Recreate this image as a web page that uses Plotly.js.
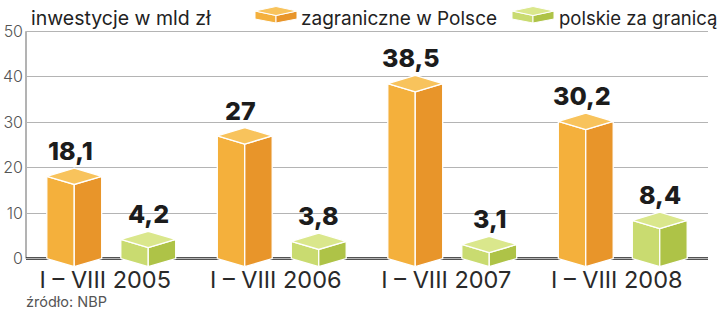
<!DOCTYPE html>
<html>
<head>
<meta charset="utf-8">
<script src="https://cdn.plot.ly/plotly-3.0.1.min.js"></script>
<style>html,body{margin:0;padding:0;background:#fff;}#chart{width:720px;height:311px;}</style>
</head>
<body>
<div id="chart"></div>
<script>
// ---- data ----
const categories = ['I – VIII 2005', 'I – VIII 2006', 'I – VIII 2007', 'I – VIII 2008'];
const foreignInPoland = [18.1, 27, 38.5, 30.2];   // zagraniczne w Polsce
const polishAbroad = [4.2, 3.8, 3.1, 8.4];        // polskie za granicą
const seriesNames = ['zagraniczne w Polsce', 'polskie za granicą'];
const yTickValues = [0, 10, 20, 30, 40, 50];
const headerText = 'inwestycje w mld zł';
const sourceText = 'źródło: NBP';

// ---- styling ----
const W = 720, H = 311;
const M = {l: 26, r: 12, t: 30, b: 42};
const FONT = 'Inter, "Open Sans", Roboto, sans-serif';
const orange = {left: '#F4B03C', right: '#E8952A', top: '#F8C35C'};
const green  = {left: '#C9DB70', right: '#AEC347', top: '#DAE78C'};
const halfW = 0.161, depth = 1.8;
const offsets = [-0.217, 0.217];
const labelShift = [-4, 0];

function boxTraces(values, off, col, name) {
  const L = {x: [], y: []}, R = {x: [], y: []}, T = {x: [], y: []};
  values.forEach((v, i) => {
    const xc = i + off, xl = xc - halfW, xr = xc + halfW;
    L.x.push(xl, xl, xc, xc, xl, null); L.y.push(0, v, v - depth, -depth, 0, null);
    R.x.push(xc, xc, xr, xr, xc, null); R.y.push(-depth, v - depth, v, 0, -depth, null);
    T.x.push(xl, xc, xr, xc, xl, null); T.y.push(v, v + depth, v, v - depth, v, null);
  });
  const mk = (d, c) => ({type: 'scatter', mode: 'lines', x: d.x, y: d.y, fill: 'toself',
    fillcolor: c, line: {color: '#ffffff', width: 1.3}, hoverinfo: 'skip', name: name, showlegend: false});
  return [mk(L, col.left), mk(R, col.right), mk(T, col.top)];
}

const traces = [
  ...boxTraces(foreignInPoland, offsets[0], orange, seriesNames[0]),
  ...boxTraces(polishAbroad, offsets[1], green, seriesNames[1])
];

const fmt = v => String(v).replace('.', ',');
const annotations = [];
[foreignInPoland, polishAbroad].forEach((vals, s) => {
  vals.forEach((v, i) => {
    annotations.push({x: i + offsets[s], y: v + depth, xref: 'x', yref: 'y', text: fmt(v),
      showarrow: false, yanchor: 'bottom', xanchor: 'center', yshift: 0, xshift: labelShift[s],
      font: {family: FONT, size: 25, color: '#1c1c1c', weight: 800}});
  });
});

// pixel -> paper helpers for decorations
const PW = W - M.l - M.r, PH = H - M.t - M.b;
const px = x => (x - M.l) / PW;
const py = y => (H - M.b - y) / PH;

annotations.push(
  {xref: 'paper', yref: 'paper', x: px(29), y: py(18), xanchor: 'left', yanchor: 'middle', showarrow: false,
   text: headerText, font: {family: FONT, size: 19.5, color: '#222'}},
  {xref: 'paper', yref: 'paper', x: px(299), y: py(18), xanchor: 'left', yanchor: 'middle', showarrow: false,
   text: seriesNames[0], font: {family: FONT, size: 19, color: '#222'}},
  {xref: 'paper', yref: 'paper', x: px(557), y: py(18), xanchor: 'left', yanchor: 'middle', showarrow: false,
   text: seriesNames[1], font: {family: FONT, size: 18.5, color: '#222'}},
  {xref: 'paper', yref: 'paper', x: px(24), y: py(301), xanchor: 'left', yanchor: 'middle', showarrow: false,
   text: sourceText, font: {family: FONT, size: 14.5, color: '#555'}}
);

function poly(pts) {
  return 'M' + pts.map(p => px(p[0]) + ',' + py(p[1])).join(' L') + ' Z';
}
function icon(x0, col) {
  const w = 42, m = w / 2;
  return [
    {type: 'path', xref: 'paper', yref: 'paper', path: poly([[x0, 11], [x0 + m, 15.5], [x0 + m, 23], [x0, 19]]), fillcolor: col.left, line: {color: '#fff', width: 1}},
    {type: 'path', xref: 'paper', yref: 'paper', path: poly([[x0 + m, 15.5], [x0 + w, 11], [x0 + w, 19], [x0 + m, 23]]), fillcolor: col.right, line: {color: '#fff', width: 1}},
    {type: 'path', xref: 'paper', yref: 'paper', path: poly([[x0, 11], [x0 + m, 6.5], [x0 + w, 11], [x0 + m, 15.5]]), fillcolor: col.top, line: {color: '#fff', width: 1}}
  ];
}

const shapes = [
  {type: 'line', xref: 'paper', x0: 0, x1: 0, yref: 'y', y0: 0, y1: 50, line: {color: '#9a9a9a', width: 1.5}, layer: 'below'},
  {type: 'line', xref: 'paper', x0: 0, x1: 1, yref: 'y', y0: 0, y1: 0, line: {color: '#1a1a1a', width: 2.5}, layer: 'below'},
  ...icon(255, orange),
  ...icon(512, green)
];

const layout = {
  width: W, height: H, margin: M,
  paper_bgcolor: '#fff', plot_bgcolor: '#fff',
  showlegend: false,
  xaxis: {range: [-0.5, 3.5], tickvals: categories.map((c, i) => i - 0.035), ticktext: categories,
    showgrid: false, zeroline: false, showline: false, ticks: '', ticklabelstandoff: -6,
    tickfont: {family: FONT, size: 23.5, color: '#2a2a2a'}, fixedrange: true},
  yaxis: {range: [-2.3, 50.3], tickvals: yTickValues, ticktext: yTickValues.map(String),
    showgrid: true, gridcolor: '#b4b4b4', gridwidth: 1, zeroline: false, showline: false, ticks: '',
    ticklabelstandoff: 2, tickfont: {family: FONT, size: 16, color: '#555', weight: 300}, fixedrange: true},
  shapes: shapes,
  annotations: annotations
};

Plotly.newPlot('chart', traces, layout, {displayModeBar: false, staticPlot: true});
</script>
</body>
</html>
